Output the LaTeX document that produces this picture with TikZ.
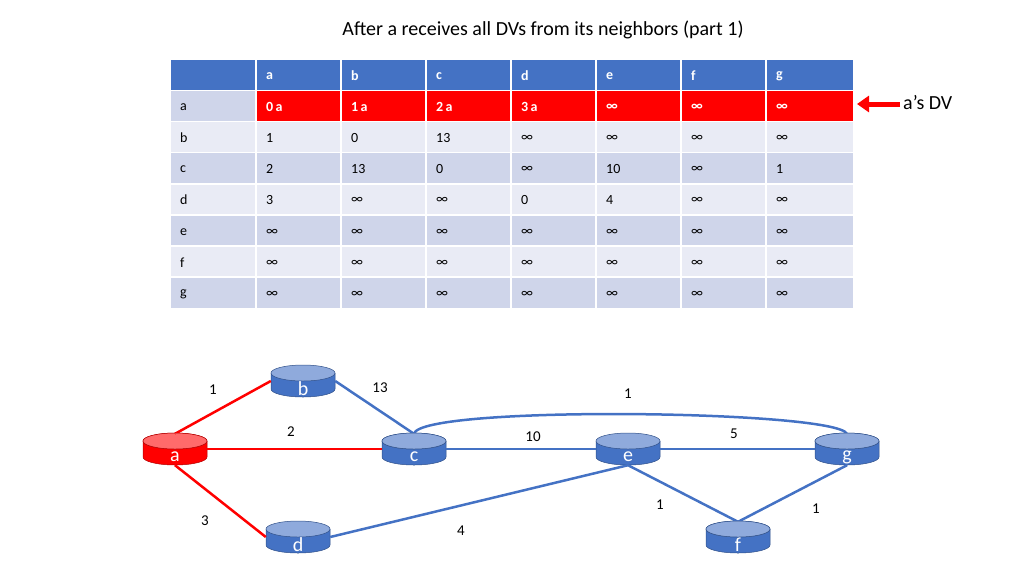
\documentclass[tikz,border=0pt]{standalone}
\usepackage{fontspec}
\setmainfont{Carlito}
\usetikzlibrary{arrows.meta}
\definecolor{hdr}{HTML}{4472C4}
\definecolor{rowA}{HTML}{CFD5EA}
\definecolor{rowB}{HTML}{E9EBF5}
\definecolor{topb}{HTML}{8FAADC}
\definecolor{topr}{HTML}{FF6B6B}
\definecolor{edgeb}{HTML}{4472C4}
\newcommand{\router}[5]{%
  \fill[#4] (#2-32,#3-8) -- (#2-32,#3+8) arc[start angle=180,end angle=360,x radius=32,y radius=-8] -- (#2+32,#3-8) -- cycle;
  \draw[#4!70!black,line width=0.5pt] (#2-32,#3-8) -- (#2-32,#3+8) arc[start angle=180,end angle=360,x radius=32,y radius=-8] -- (#2+32,#3-8);
  \fill[#5,draw=#4!70!black,line width=0.5pt] (#2,#3-8) ellipse[x radius=32,y radius=8];
  \node[inner sep=0,minimum width=64,minimum height=32] (#1) at (#2,#3) {};
  \node[text=white,font=\fontsize{20}{20}\selectfont] (#1l) at (#2,#3+8) {#1};
}
\begin{document}
\begin{tikzpicture}[x=1pt,y=-1pt,
  cell/.style={anchor=west,font=\fontsize{14}{14}\selectfont,inner sep=0},
  hcell/.style={cell,text=white,font=\fontsize{14}{14}\selectfont\bfseries},
  lbl/.style={font=\fontsize{15}{15}\selectfont},
  redge/.style={red,line width=2.5pt},
  bedge/.style={edgeb,line width=2.5pt}]
\useasboundingbox (0,0) rectangle (1024,576);
\node[font=\fontsize{20}{20}\selectfont] (title) at (543,30) {After a receives all DVs from its neighbors (part 1)};
% table
\def\ys{{60,91,122,153,185,216,247,278,309}}
\fill[hdr] (171,60) rectangle (853,90);
\foreach \r/\c in {1/rowA,2/rowB,3/rowA,4/rowB,5/rowA,6/rowB,7/rowA}{
  \pgfmathsetmacro\ya{\ys[\r]}\pgfmathsetmacro\yb{\ys[\r+1]-1}
  \fill[\c] (171,\ya) rectangle (853,\yb);}
\fill[red] (256,91) rectangle (853,121);
\foreach \x in {256,341,426,511,596,681,766}{\draw[white,line width=1.5pt] (\x,60) -- (\x,309);}
\foreach \y in {90.5,121.5,152.5,184,215,246,277}{\draw[white,line width=1.5pt] (171,\y) -- (853,\y);}
\foreach \t [count=\i] in {a,b,c,d,e,f,g}{\node[hcell] (h\i) at (256+85*\i-85+10,76) {\t};}
\newcommand{\trow}[9]{%
  \node[cell] (r#1) at (180,#2) {#1};
  \foreach \t [count=\i] in {#3,#4,#5,#6,#7,#8,#9}{\node[cell] (r#1c\i) at (256+85*\i-85+10,#2) {\t};}}
\trow{b}{138}{1}{0}{13}{∞}{∞}{∞}{∞}
\trow{c}{169}{2}{13}{0}{∞}{10}{∞}{1}
\trow{d}{200}{3}{∞}{∞}{0}{4}{∞}{∞}
\trow{e}{232}{∞}{∞}{∞}{∞}{∞}{∞}{∞}
\trow{f}{263}{∞}{∞}{∞}{∞}{∞}{∞}{∞}
\trow{g}{294}{∞}{∞}{∞}{∞}{∞}{∞}{∞}
\node[cell] (ra) at (180,107) {a};
\foreach \t [count=\i] in {0\,a,1\,a,2\,a,3\,a,∞,∞,∞}{\node[hcell] (rac\i) at (256+85*\i-85+10,107) {\t};}
% arrow
\node[font=\fontsize{20}{20}\selectfont,anchor=west,inner sep=0] (dv) at (903,103) {a’s DV};
\coordinate (arrE) at (857,104);
\draw[red,line width=5pt,-{Triangle[length=12pt,width=16pt]}] (dv.west) ++(-3,1) -- (arrE);
% routers
\router{a}{175}{449}{red}{topr}
\router{b}{303}{381}{hdr}{topb}
\router{c}{414}{449}{hdr}{topb}
\router{d}{298}{537}{hdr}{topb}
\router{e}{628}{449}{hdr}{topb}
\router{f}{738}{537}{hdr}{topb}
\router{g}{847}{449}{hdr}{topb}
% edges
\begin{scope}[on background layer/.style={}]
\end{scope}
\draw[bedge] (b.east) -- ([yshift=-1]c.north);
\draw[bedge] ([yshift=-1]c.north) .. controls (420,405) and (835,410) .. ([yshift=-1]g.north);
\draw[bedge] (c.east) -- (e.west);
\draw[bedge] (e.east) -- (g.west);
\draw[bedge] (d.east) -- (e.south);
\draw[bedge] (e.south) -- ([yshift=-1]f.north);
\draw[bedge] (g.south) -- ([yshift=-1]f.north);
\draw[redge] ([yshift=-1]a.north) -- (b.west);
\draw[redge] (a.east) -- (c.west);
\draw[redge] (a.south) -- (d.west);
% redraw node tops over edge ends
\fill[topr,draw=red!70!black,line width=0.5pt] (175,441) ellipse[x radius=32,y radius=8];
\foreach \x/\y in {414/441,847/441,738/529}{\fill[topb,draw=hdr!70!black,line width=0.5pt] (\x,\y) ellipse[x radius=32,y radius=8];}
\draw[redge] ([yshift=-1]a.north) -- ++(0.1,-0.06);
% labels
\node[lbl] (l1) at (213,390) {1};
\node[lbl] (l2) at (380,388) {13};
\node[lbl] (l3) at (628,394) {1};
\node[lbl] (l4) at (291,432) {2};
\node[lbl] (l5) at (533,437) {10};
\node[lbl] (l6) at (734,434) {5};
\node[lbl] (l7) at (205,521) {3};
\node[lbl] (l8) at (461,531) {4};
\node[lbl] (l9) at (660,505) {1};
\node[lbl] (l10) at (816,509) {1};
\end{tikzpicture}
\end{document}
